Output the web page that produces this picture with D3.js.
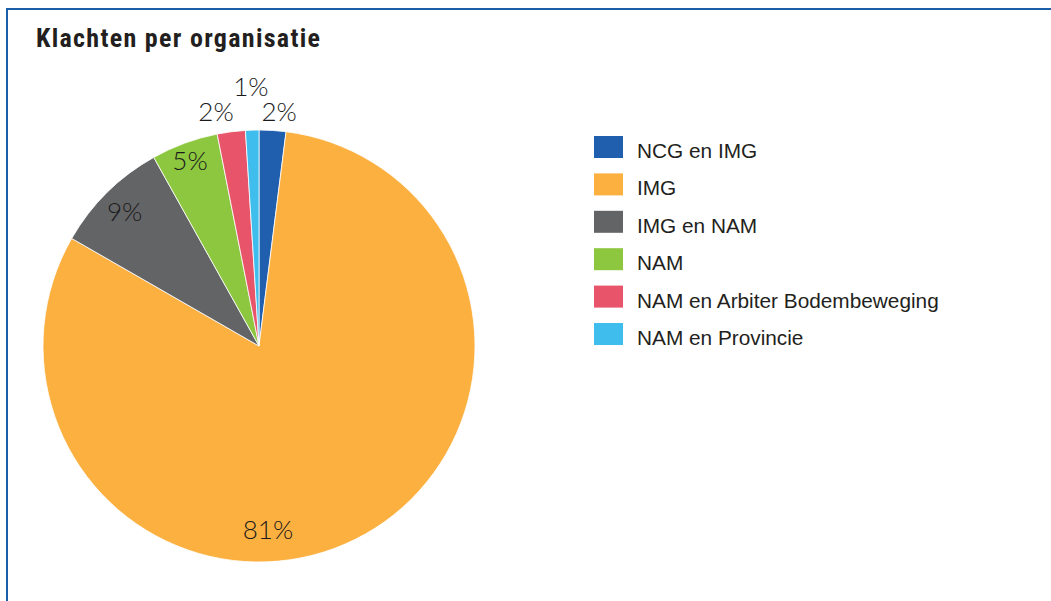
<!DOCTYPE html>
<html>
<head>
<meta charset="utf-8">
<script src="https://cdn.jsdelivr.net/npm/d3@7"></script>
<style>
  html, body { margin: 0; padding: 0; background: #fff; }
  svg { display: block; }
</style>
</head>
<body>
<div id="chart"></div>
<script>
// data
const categories = ["NCG en IMG", "IMG", "IMG en NAM", "NAM", "NAM en Arbiter Bodembeweging", "NAM en Provincie"];
const shares = [2.0, 81.3, 8.6, 5.0, 2.1, 1.0];
const labels = ["2%", "81%", "9%", "5%", "2%", "1%"];
const colors = ["#1f5fae", "#fbb040", "#636466", "#8dc63f", "#e8546a", "#3fbdec"];

// where Excel left each percentage label (angle in degrees from 12 o'clock, radius in px)
const labelPolar = [[4.9, 235], [177.2, 184], [-45, 190], [-20.4, 198], [-10.4, 238], [-1.8, 259]];

const width = 1051, height = 601;
const cx = 259, cy = 346, radius = 216;

const svg = d3.select("#chart").append("svg")
    .attr("width", width)
    .attr("height", height);

// frame
svg.append("path")
    .attr("d", `M7,${height + 5}V9H${width + 5}`)
    .attr("fill", "none")
    .attr("stroke", "#1a5fa8")
    .attr("stroke-width", 2);

svg.append("text")
    .attr("x", 36)
    .attr("y", 47)
    .style("font-family", "'Liberation Sans Narrow', 'Roboto Condensed', 'Liberation Sans', sans-serif")
    .style("font-weight", "bold")
    .style("font-size", "26px")
    .style("letter-spacing", "1.3px")
    .style("fill", "#231f20")
    .text("Klachten per organisatie");

const pie = d3.pie().sort(null).value(d => d);
const arc = d3.arc().innerRadius(0).outerRadius(radius);

const g = svg.append("g").attr("transform", `translate(${cx},${cy})`);

g.selectAll("path.slice")
    .data(pie(shares))
    .enter()
    .append("path")
    .attr("class", "slice")
    .attr("d", arc)
    .attr("fill", (d, i) => colors[i])
    .attr("stroke", "#fff")
    .attr("stroke-width", 0.8);

g.selectAll("text.pct")
    .data(labels)
    .enter()
    .append("text")
    .attr("class", "pct")
    .attr("x", (d, i) => labelPolar[i][1] * Math.sin(labelPolar[i][0] * Math.PI / 180))
    .attr("y", (d, i) => -labelPolar[i][1] * Math.cos(labelPolar[i][0] * Math.PI / 180))
    .attr("dy", "0.35em")
    .attr("text-anchor", "middle")
    .style("font-family", "Lato, 'Open Sans', sans-serif")
    .style("font-weight", 300)
    .style("font-size", "26px")
    .style("fill", "#1a1a1a")
    .text(d => d);

// legend
const legend = svg.append("g").attr("transform", "translate(594,136)");
const row = d3.scaleBand().domain(categories).range([0, 6 * 37.4]);

const items = legend.selectAll("g.item")
    .data(categories)
    .enter()
    .append("g")
    .attr("class", "item")
    .attr("transform", d => `translate(0,${row(d)})`);

items.append("rect")
    .attr("width", 29)
    .attr("height", 22)
    .attr("fill", (d, i) => colors[i]);

items.append("text")
    .attr("x", 43)
    .attr("y", 22)
    .style("font-family", "'Liberation Sans', Arial, sans-serif")
    .style("font-size", "20.8px")
    .style("fill", "#231f20")
    .text(d => d);
</script>
</body>
</html>
